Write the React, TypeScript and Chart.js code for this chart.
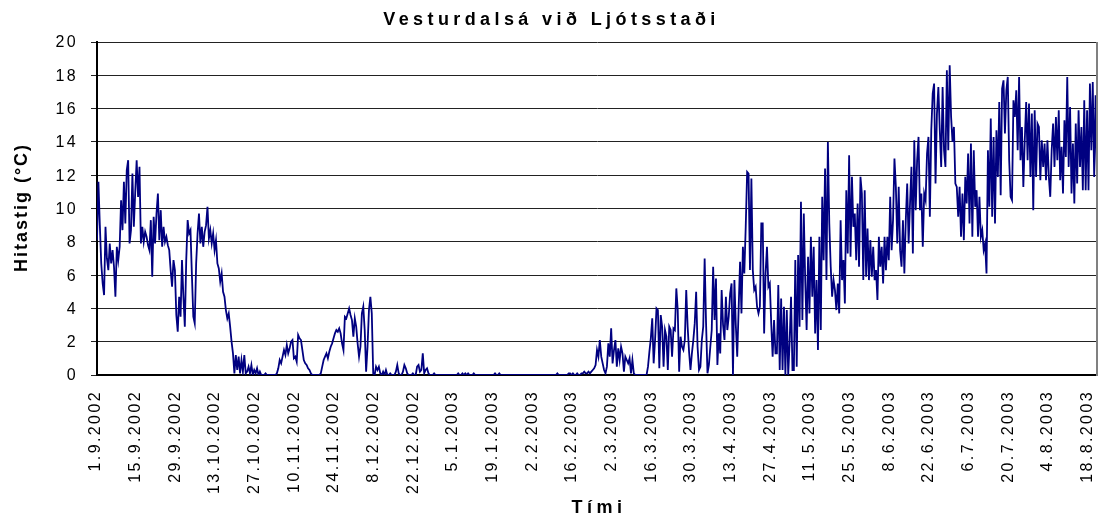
import React, { useEffect, useRef } from 'react';
import { Chart, registerables } from 'chart.js';

Chart.register(...registerables);

const chartTitle = 'Vesturdalsá við Ljótsstaði';
const yAxisTitle = 'Hitastig (°C)';
const xAxisTitle = 'Tími';

const tickLabels = [
  '1.9.2002', '15.9.2002', '29.9.2002', '13.10.2002', '27.10.2002', '10.11.2002',
  '24.11.2002', '8.12.2002', '22.12.2002', '5.1.2003', '19.1.2003', '2.2.2003',
  '16.2.2003', '2.3.2003', '16.3.2003', '30.3.2003', '13.4.2003', '27.4.2003',
  '11.5.2003', '25.5.2003', '8.6.2003', '22.6.2003', '6.7.2003', '20.7.2003',
  '4.8.2003', '18.8.2003',
];

// two readings per day, a label every 14 days
const samplesPerTick = 28;

const yTicks = [0, 2, 4, 6, 8, 10, 12, 14, 16, 18, 20];

// autumn 2002
const tempsAutumn = [
  8.1, 11.6, 9.0, 6.7, 5.5, 4.8, 8.9, 7.0, 6.3, 7.9,
  6.7, 7.5, 6.5, 4.7, 7.7, 6.9, 7.7, 10.5, 8.7, 11.6,
  9.1, 12.3, 12.9, 7.9, 8.7, 12.1, 8.9, 11.0, 12.9, 10.7,
  12.5, 7.9, 8.9, 8.0, 8.6, 8.3, 7.8, 7.5, 9.3, 5.9,
  9.5, 7.9, 9.7, 10.9, 8.1, 9.9, 7.7, 8.9, 8.0, 8.3,
  7.8, 7.5, 6.3, 5.3, 6.9, 6.3, 3.6, 2.6, 4.7, 3.5,
  6.9, 4.7, 2.9, 6.9, 9.3, 8.5, 8.7, 6.0, 3.5, 3.1,
  6.7, 8.5, 9.7, 7.9, 8.9, 7.7, 8.6, 9.0, 10.1, 8.2,
  8.7, 7.9, 8.5, 7.5, 8.1, 6.7, 6.4, 5.6, 6.1, 5.0,
  4.7, 3.9, 3.4, 3.7, 2.9, 2.0, 1.3, 0.1, 1.2, 0.3,
  1.1, 0.1, 0.9, 0.2, 1.2, 0.1, 0.2, 0.5, 0.1, 0.6,
  0, 0.3, 0.1, 0.4, 0, 0.2, 0, 0, 0, 0.1,
  0, 0, 0, 0, 0, 0, 0, 0.1, 0.4, 0.9,
  0.7, 1.1, 1.5, 1.2, 1.8, 1.3, 1.6, 2.0, 2.1, 1.0,
  1.1, 0.8, 2.4, 2.2, 2.1, 1.5, 0.9, 0.7, 0.6, 0.4,
  0.3, 0.1, 0, 0, 0, 0, 0, 0, 0.1, 0.5,
  0.9, 1.1, 1.3, 1.0, 1.4, 1.7, 1.9, 2.2, 2.5, 2.7,
  2.6, 2.8, 2.5, 1.9, 1.5, 3.5, 3.4, 3.7, 4.0, 3.6,
  3.3, 2.3, 3.4, 2.9, 1.9, 1.1, 1.7, 3.7, 4.1, 2.7,
  0.2, 1.7, 3.9, 4.7, 3.7, 0.1, 0, 0.5, 0.3, 0.5,
];

// winter 2002-2003
const tempsWinter = [
  0.1, 0, 0.2, 0, 0.3, 0, 0, 0.1, 0, 0,
  0, 0.2, 0.6, 0.1, 0, 0, 0.2, 0.6, 0.4, 0.1,
  0, 0, 0, 0.1, 0, 0, 0.5, 0.6, 0.2, 0.3,
  1.3, 0.1, 0.3, 0.4, 0.1, 0, 0, 0, 0.1, 0,
  0, 0, 0, 0, 0, 0, 0, 0, 0, 0,
  0, 0, 0, 0, 0, 0.1, 0, 0, 0.1, 0,
  0.1, 0, 0.1, 0, 0, 0, 0.1, 0, 0, 0,
  0, 0, 0, 0, 0, 0, 0, 0, 0, 0,
  0, 0.1, 0, 0, 0.1, 0, 0, 0, 0, 0,
  0, 0, 0, 0, 0, 0, 0, 0, 0, 0,
  0, 0, 0, 0, 0, 0, 0, 0, 0, 0,
  0, 0, 0, 0, 0, 0, 0, 0, 0, 0,
  0, 0, 0, 0, 0, 0.1, 0, 0, 0, 0,
  0, 0, 0, 0.1, 0.1, 0, 0.1, 0, 0, 0.1,
  0, 0, 0.1, 0.1, 0.2, 0.1, 0.1, 0.2, 0.1, 0.2,
  0.3, 0.4, 0.6, 1.5, 1.1, 2.1, 1.1, 0.7, 0.3, 0.1,
  0.5, 1.9, 1.1, 2.8, 0.7, 1.5, 2.1, 0.5, 1.6, 0.9,
  1.7, 1.3, 0.2, 1.1, 0.9, 0.7, 1.0, 0.1, 0.9, 0.1,
  0, 0, 0, 0, 0, 0, 0, 0, 0, 0.5,
];

// spring 2003
const tempsSpring = [
  1.4, 2.2, 3.4, 0.7, 2.1, 4.0, 3.9, 0.4, 3.6, 2.9,
  0.5, 2.7, 2.3, 0.3, 2.9, 2.7, 1.1, 2.8, 2.7, 5.2,
  3.9, 0.2, 2.3, 1.7, 1.5, 2.1, 5.1, 2.9, 1.4, 0.3,
  1.3, 2.1, 3.1, 5.0, 1.7, 0.3, 0.5, 2.1, 2.9, 7.0,
  3.1, 0.1, 0.6, 1.7, 2.7, 6.5, 3.3, 5.8, 0.6, 2.5,
  1.3, 5.1, 3.0, 2.1, 4.7, 2.7, 3.5, 4.9, 5.5, 0,
  5.7, 3.0, 1.1, 4.0, 6.8, 3.7, 7.7, 6.1, 8.9, 12.2,
  12.1, 6.3, 11.8, 6.3, 5.1, 5.3, 4.1, 3.7, 4.1, 9.1,
  9.1, 2.5, 6.1, 7.7, 5.3, 5.5, 3.1, 1.1, 3.3, 1.3,
  1.3, 5.4, 0.3, 4.6, 0.3, 4.1, 0, 3.9, 0, 2.0,
  4.7, 0.3, 0.3, 6.9, 0.5, 7.2, 2.9, 10.4, 3.3, 9.7,
  5.7, 2.7, 7.1, 3.7, 8.3, 4.7, 7.7, 2.5, 5.7, 1.5,
  8.3, 2.7, 10.7, 6.9, 12.4, 5.7, 14.0, 9.1, 6.5, 4.7,
  5.7, 5.1, 3.9, 5.5, 3.7, 9.3, 5.7, 6.9, 4.3, 11.1,
  7.3, 13.2, 7.1, 11.9, 8.9, 9.7, 6.9, 10.3, 6.5, 11.9,
  10.9, 5.7, 11.1, 5.9, 8.8, 5.7, 8.1, 5.9, 7.7, 5.7,
  6.3, 4.5, 8.3, 6.5, 7.7, 5.5, 8.3, 6.3, 8.3, 6.9,
];

// summer 2003
const tempsSummer = [
  10.7, 7.5, 9.3, 13.0, 11.3, 7.9, 11.3, 7.5, 6.5, 9.3,
  6.1, 9.3, 11.5, 7.9, 10.3, 12.5, 7.3, 14.1, 9.9, 12.9,
  14.3, 9.9, 10.9, 7.7, 10.9, 10.5, 13.3, 14.3, 9.5, 14.7,
  16.9, 17.5, 11.5, 15.7, 17.3, 14.7, 12.5, 17.3, 13.5, 12.5,
  18.3, 13.5, 18.6, 15.5, 14.0, 14.9, 11.5, 11.3, 9.5, 11.3,
  8.3, 10.9, 8.1, 11.9, 10.3, 13.3, 9.1, 13.9, 8.3, 13.5,
  10.1, 11.1, 8.3, 10.7, 8.3, 8.7, 7.5, 7.9, 6.1, 13.5,
  10.1, 15.4, 9.5, 14.3, 9.1, 14.7, 11.9, 16.4, 10.8, 17.2,
  17.7, 14.5, 17.1, 17.9, 12.9, 10.7, 10.5, 16.5, 15.5, 17.1,
  13.5, 17.9, 12.9, 14.9, 11.3, 14.1, 16.4, 12.9, 16.3, 11.9,
  15.7, 9.9, 15.9, 11.9, 15.1, 14.9, 11.7, 14.1, 12.5, 13.9,
  11.7, 14.1, 11.9, 10.7, 13.5, 15.1, 12.5, 15.5, 12.9, 15.9,
  11.7, 13.7, 10.9, 15.3, 13.1, 17.9, 12.5, 16.1, 10.9, 13.9,
  10.3, 15.1, 11.5, 15.9, 12.5, 14.9, 11.1, 16.5, 11.1, 15.9,
  11.1, 17.5, 13.5, 17.6, 11.9, 16.8, 11.9,
];

const temps = [...tempsAutumn, ...tempsWinter, ...tempsSpring, ...tempsSummer];

const FONT = "'Liberation Sans', Arial, Helvetica, sans-serif";
const LINE_COLOR = '#000080';
const TICK_FONT = `16px ${FONT}`;
const TICK_SPACING = '2.4px';

function spacedText(ctx: CanvasRenderingContext2D, text: string, font: string, spacing: string, x: number, y: number) {
  ctx.font = font;
  (ctx as any).letterSpacing = spacing;
  ctx.fillText(text, x, y);
}

export default function App() {
  const canvasRef = useRef<HTMLCanvasElement | null>(null);

  useEffect(() => {
    document.body.style.margin = '0';
    const canvas = canvasRef.current;
    if (!canvas) return;

    const textPlugin = {
      id: 'excelText',
      afterDraw(chart: any) {
        const { ctx, chartArea } = chart;
        const xScale = chart.scales.x;
        const yScale = chart.scales.y;
        ctx.save();

        // right frame edge
        ctx.strokeStyle = '#808080';
        ctx.lineWidth = 2;
        ctx.beginPath();
        ctx.moveTo(chartArea.right, chartArea.top);
        ctx.lineTo(chartArea.right, chartArea.bottom + 1);
        ctx.stroke();

        ctx.fillStyle = '#000';

        // y tick labels, positioned by the y scale
        ctx.textAlign = 'right';
        ctx.textBaseline = 'middle';
        for (const t of yScale.ticks) {
          spacedText(ctx, String(t.value), TICK_FONT, TICK_SPACING, chartArea.left - 19, yScale.getPixelForValue(t.value) + 1);
        }

        // x tick labels, rotated, positioned by the x scale
        for (const t of xScale.ticks) {
          const label = tickLabels[Math.round(t.value / samplesPerTick)];
          if (!label) continue;
          ctx.save();
          ctx.translate(xScale.getPixelForValue(t.value) - 1, chartArea.bottom + 15);
          ctx.rotate(-Math.PI / 2);
          ctx.textAlign = 'right';
          ctx.textBaseline = 'middle';
          spacedText(ctx, label, TICK_FONT, TICK_SPACING, 0, 0);
          ctx.restore();
        }

        ctx.textAlign = 'center';
        ctx.textBaseline = 'middle';
        spacedText(ctx, chartTitle, `bold 18px ${FONT}`, '4.4px', chart.width / 2 + 2, 20);
        spacedText(ctx, xAxisTitle, `bold 18px ${FONT}`, '4.5px', (chartArea.left + chartArea.right) / 2 + 2, 508);

        ctx.translate(22, (chartArea.top + chartArea.bottom) / 2);
        ctx.rotate(-Math.PI / 2);
        spacedText(ctx, yAxisTitle, `bold 18px ${FONT}`, '2px', 1, 0);
        ctx.restore();
      },
    };

    const chart = new Chart(canvas, {
      type: 'line',
      data: {
        datasets: [
          {
            data: temps.map((v, i) => ({ x: i, y: v })),
            borderColor: LINE_COLOR,
            borderWidth: 1.8,
            pointRadius: 0,
            tension: 0,
            fill: false,
          },
        ],
      },
      options: {
        animation: false,
        responsive: false,
        events: [],
        layout: { padding: { top: 42, right: 2, left: 0, bottom: 0 } },
        plugins: {
          legend: { display: false },
          title: { display: false },
          tooltip: { enabled: false },
        },
        scales: {
          x: {
            type: 'linear',
            min: 0,
            max: temps.length - 1,
            afterBuildTicks: (scale: any) => {
              scale.ticks = tickLabels.map((_, k) => ({ value: k * samplesPerTick }));
            },
            afterFit: (scale: any) => {
              scale.height = 152;
              scale.paddingLeft = 0;
              scale.paddingRight = 0;
            },
            grid: { display: false, drawTicks: false },
            border: { display: true, color: '#000', width: 2 },
            ticks: { display: false, autoSkip: false },
          },
          y: {
            min: 0,
            max: 20,
            afterBuildTicks: (scale: any) => {
              scale.ticks = yTicks.map((v) => ({ value: v }));
            },
            afterFit: (scale: any) => {
              scale.width = 97;
              scale.paddingTop = 0;
              scale.paddingBottom = 0;
            },
            grid: { color: '#222', lineWidth: 1, tickLength: 6, drawTicks: true },
            border: { display: true, color: '#000', width: 2 },
            ticks: { display: false },
          },
        },
      },
      plugins: [textPlugin],
    });

    return () => chart.destroy();
  }, []);

  return (
    <div style={{ width: 1099, height: 527 }}>
      <canvas ref={canvasRef} width={1099} height={527} style={{ display: 'block' }} />
    </div>
  );
}
